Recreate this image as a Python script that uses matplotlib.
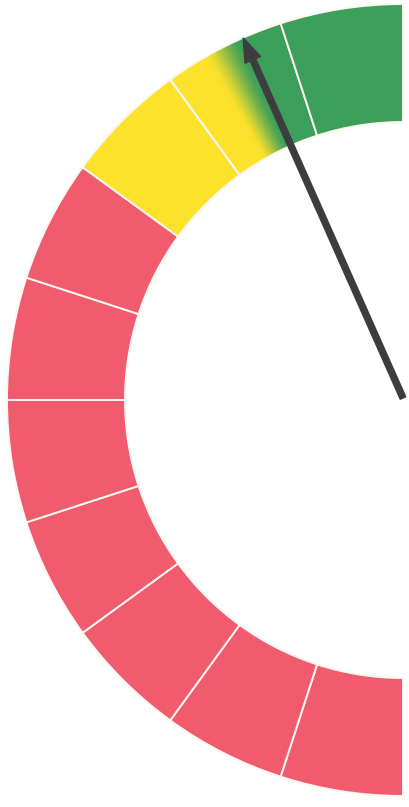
import numpy as np
import matplotlib
matplotlib.use('Agg')
import matplotlib.pyplot as plt
from matplotlib.patches import Wedge, FancyArrow
from matplotlib.colors import to_rgb

# gauge scale: 0 at the bottom of the arc, 10 at the top
n_segments = 10
segment_zones = ['red', 'red', 'red', 'red', 'red', 'red', 'red', 'yellow', 'blend', 'green']
blend_start, blend_end = 8.32, 8.66   # where yellow turns into green
needle_value = 8.67

colors = {'red': '#f05b6d', 'yellow': '#fde22c', 'green': '#3c9f5a'}
needle_color = '#3d3d3f'

r_out, r_in = 396, 278


def value_to_angle(v):
    # half gauge on the left side: value 0 at 270 deg, value 10 at 90 deg
    return 270 - v * 180 / n_segments


fig = plt.figure(figsize=(4.09, 8.07), dpi=100)
ax = fig.add_axes([0, 0, 1, 1])
ax.set_xlim(-403, 6)
ax.set_ylim(-407, 400)
ax.set_aspect('equal')
ax.axis('off')

for i, zone in enumerate(segment_zones):
    a1 = value_to_angle(i + 1)
    a2 = value_to_angle(i)
    if zone == 'blend':
        w = Wedge((0, 0), r_out, a1, a2, width=r_out - r_in,
                  facecolor='none', edgecolor='none')
        ax.add_patch(w)
        xs = np.linspace(-403, 6, 410)
        ys = np.linspace(-407, 400, 808)
        X, Y = np.meshgrid(xs, ys)
        ang = np.degrees(np.arctan2(Y, X)) % 360
        val = (270 - ang) * n_segments / 180
        t = np.clip((val - blend_start) / (blend_end - blend_start), 0, 1)[..., None]
        t = t * t * (3 - 2 * t)
        img = (1 - t) * np.array(to_rgb(colors['yellow'])) + t * np.array(to_rgb(colors['green']))
        im = ax.imshow(img, extent=(-403, 6, -407, 400), origin='lower',
                       interpolation='bilinear', zorder=1)
        im.set_clip_path(w)
        ax.add_patch(Wedge((0, 0), r_out, a1, a2, width=r_out - r_in,
                           facecolor='none', edgecolor='#fbf6f0', lw=1.4, zorder=2))
    else:
        ax.add_patch(Wedge((0, 0), r_out, a1, a2, width=r_out - r_in,
                           facecolor=colors[zone], edgecolor='#fbf6f0', lw=1.4, zorder=2))

# needle
a = np.radians(value_to_angle(needle_value))
length = 394
ax.add_patch(FancyArrow(0, 2, length * np.cos(a), length * np.sin(a), width=6,
                        head_width=17, head_length=24, length_includes_head=True,
                        color=needle_color, zorder=3))

fig.savefig('out.png', dpi=100, facecolor='white')
